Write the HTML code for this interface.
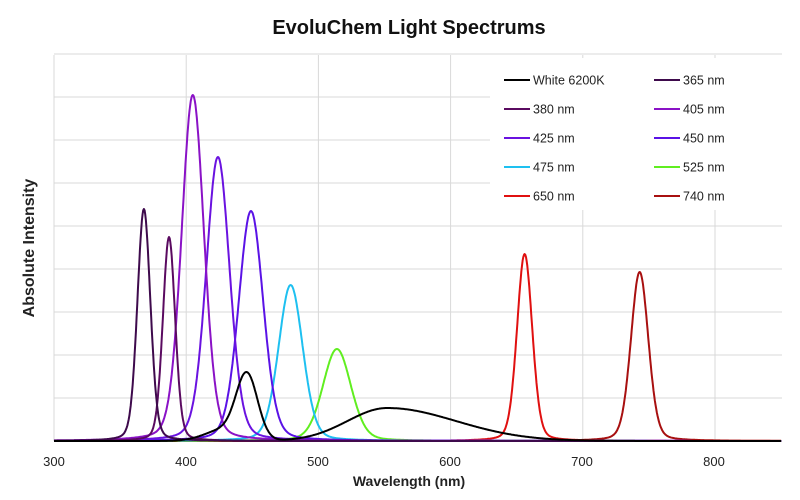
<!DOCTYPE html>
<html><head><meta charset="utf-8"><style>
body{margin:0;background:#fff;}
svg{display:block;font-family:"Liberation Sans",sans-serif;}
</style></head><body>
<svg id="s" width="800" height="500" xmlns="http://www.w3.org/2000/svg">
<rect width="800" height="500" fill="#fff"/>
<text x="409" y="34" text-anchor="middle" font-size="20" font-weight="bold" fill="#111">EvoluChem Light Spectrums</text>
<g id="grid" stroke="#d9d9d9" stroke-width="1"></g>
<rect x="490" y="58" width="294" height="152" fill="#fff"/>
<g id="curves" fill="none" stroke-width="2" stroke-linejoin="round"></g>
<g font-size="13" fill="#222" text-anchor="middle">
<text x="54" y="466">300</text><text x="186" y="466">400</text><text x="318" y="466">500</text>
<text x="450" y="466">600</text><text x="582" y="466">700</text><text x="714" y="466">800</text>
</g>
<text x="409" y="486" text-anchor="middle" font-size="14" font-weight="bold" fill="#222">Wavelength (nm)</text>
<text transform="translate(34,248) rotate(-90)" text-anchor="middle" font-size="16" font-weight="bold" fill="#222">Absolute Intensity</text>
<g id="legend" font-size="12.5" fill="#222"></g>
</svg>
<script>
var ns="http://www.w3.org/2000/svg";
function el(p,t,a,txt){var e=document.createElementNS(ns,t);for(var k in a)e.setAttribute(k,a[k]);if(txt)e.textContent=txt;document.getElementById(p).appendChild(e);return e;}
var L=54,R=782,T=55,B=441;
for(var i=0;i<=9;i++){var y=B-i*43;el("grid","line",{x1:L,x2:R,y1:y,y2:y});}
[186.2,318.4,450.6,582.8,715].forEach(function(x){el("grid","line",{x1:x,x2:x,y1:T,y2:B});});
el("grid","line",{x1:L,x2:L,y1:T,y2:B});
function X(nm){return 54+(nm-300)*1.322;}
function pv(x,c,h,w){var d=(x-c)/w;return h*(0.8*Math.exp(-0.693*d*d)+0.2/(1+d*d));}
var S=[
["#e01010",656,187,6.8],["#a81010",743,169,7.8],
["#60ee20",514,92,12.5],["#1ec0f0",479,156,10.8],
["#5a12e6",449,230,11],["#6a12e0",424,284,10.5],["#8a12c6",405,346,10],
["#5a0a60",387,204,5.5],["#3e0a4c",368,232,5.8]];
S.forEach(function(s){var d="";for(var nm=300;nm<=850;nm+=0.5){var y=B-pv(nm,s[1],s[2],s[3]);d+=(nm==300?"M":"L")+X(nm).toFixed(1)+","+y.toFixed(1);}
el("curves","path",{d:d,stroke:s[0]});});
var d="";for(var nm=300;nm<=850;nm+=0.5){var g=62*Math.exp(-Math.pow((nm-446)/8,2)/2)+12*Math.exp(-Math.pow((nm-430)/15,2)/2);
var sg=nm<552?30:52;var b=33*Math.exp(-Math.pow((nm-552)/sg,2)/2);
var y=B-(g+b);d+=(nm==300?"M":"L")+X(nm).toFixed(1)+","+y.toFixed(1);}
el("curves","path",{d:d,stroke:"#000"});
var lg=[["#000","White 6200K"],["#3e0a4c","365 nm"],["#5a0a60","380 nm"],["#8a12c6","405 nm"],["#6a12e0","425 nm"],["#5a12e6","450 nm"],["#1ec0f0","475 nm"],["#60ee20","525 nm"],["#e01010","650 nm"],["#a81010","740 nm"]];
lg.forEach(function(l,i){var c=i%2,r=Math.floor(i/2);var x=c?654:504,y=80+r*29;
el("legend","line",{x1:x,x2:x+26,y1:y,y2:y,stroke:l[0],"stroke-width":2});
el("legend","text",{x:x+29,y:y+4.5},l[1]);});
</script>
</body></html>
